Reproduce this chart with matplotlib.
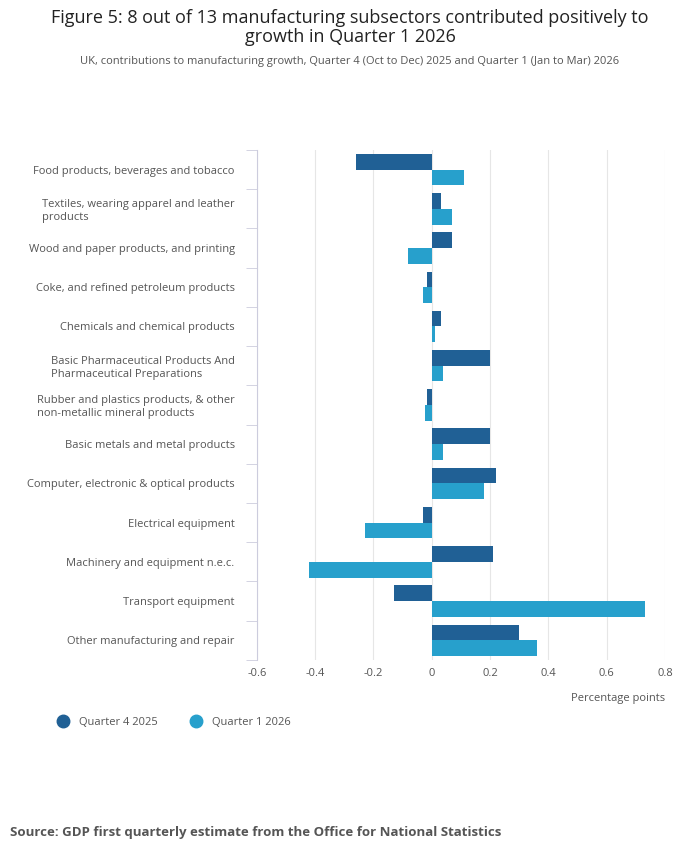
import matplotlib
matplotlib.use("Agg")
import matplotlib.pyplot as plt
from matplotlib.lines import Line2D
import numpy as np

plt.rcParams['font.family'] = ['Open Sans', 'DejaVu Sans']

categories = ["Food products, beverages and tobacco",
              "Textiles, wearing apparel and leather\nproducts",
              "Wood and paper products, and printing",
              "Coke, and refined petroleum products",
              "Chemicals and chemical products",
              "Basic Pharmaceutical Products And\nPharmaceutical Preparations",
              "Rubber and plastics products, & other\nnon-metallic mineral products",
              "Basic metals and metal products",
              "Computer, electronic & optical products",
              "Electrical equipment",
              "Machinery and equipment n.e.c.",
              "Transport equipment",
              "Other manufacturing and repair"]
q4_2025 = [-0.26, 0.03, 0.07, -0.015, 0.03, 0.20, -0.015, 0.20, 0.22, -0.03, 0.21, -0.13, 0.30]
q1_2026 = [0.11, 0.07, -0.08, -0.03, 0.01, 0.04, -0.025, 0.04, 0.18, -0.23, -0.42, 0.73, 0.36]
ticks = [-0.6, -0.4, -0.2, 0, 0.2, 0.4, 0.6, 0.8]
tick_labels = ["-0.6", "-0.4", "-0.2", "0", "0.2", "0.4", "0.6", "0.8"]

dark, light = "#206095", "#27a0cc"
fig = plt.figure(figsize=(7, 8.57), dpi=100)
ax = fig.add_axes([0.367, 0.23, 0.583, 0.595])
y = np.arange(len(categories))
h = 0.4
ax.barh(y - h/2, q4_2025, height=h, color=dark, zorder=3)
ax.barh(y + h/2, q1_2026, height=h, color=light, zorder=3)
ax.set_ylim(len(categories) - 0.5, -0.5)
ax.set_xlim(-0.6, 0.8)
ax.set_xticks(ticks)
ax.set_xticklabels(tick_labels, fontsize=8, color="#555555")
ax.set_yticks(y)
ax.set_yticklabels(categories, fontsize=8, color="#555555", ha="right", multialignment="left")
ax.tick_params(axis='y', length=0, pad=16)
ax.set_yticks(np.arange(-0.5, len(categories)), minor=True)
ax.tick_params(axis='y', which='minor', length=8, color="#ccccdd")
ax.tick_params(axis='x', length=0, pad=6)
ax.grid(axis='x', color="#e6e6e6", zorder=0)
for s in ["top", "right", "bottom"]:
    ax.spines[s].set_visible(False)
ax.spines["left"].set_color("#ccccdd")
ax.set_xlabel("Percentage points", fontsize=8, color="#555555", loc="right", labelpad=10)

fig.text(0.5, 0.99, "Figure 5: 8 out of 13 manufacturing subsectors contributed positively to\ngrowth in Quarter 1 2026",
         ha="center", va="top", fontsize=13, color="#222222", linespacing=1.1)
fig.text(0.5, 0.935, "UK, contributions to manufacturing growth, Quarter 4 (Oct to Dec) 2025 and Quarter 1 (Jan to Mar) 2026",
         ha="center", va="top", fontsize=8, color="#555555")
handles = [Line2D([], [], marker='o', ls='', color=dark, markersize=9),
           Line2D([], [], marker='o', ls='', color=light, markersize=9)]
fig.legend(handles, ["Quarter 4 2025", "Quarter 1 2026"], loc="upper left",
           bbox_to_anchor=(0.06, 0.175), ncol=2, frameon=False,
           fontsize=8, labelcolor="#555555", handletextpad=0.4, columnspacing=2.5)
fig.text(0.014, 0.025, "Source: GDP first quarterly estimate from the Office for National Statistics",
         fontsize=9.5, fontweight="bold", color="#555555")
fig.savefig("out.png", dpi=100)
